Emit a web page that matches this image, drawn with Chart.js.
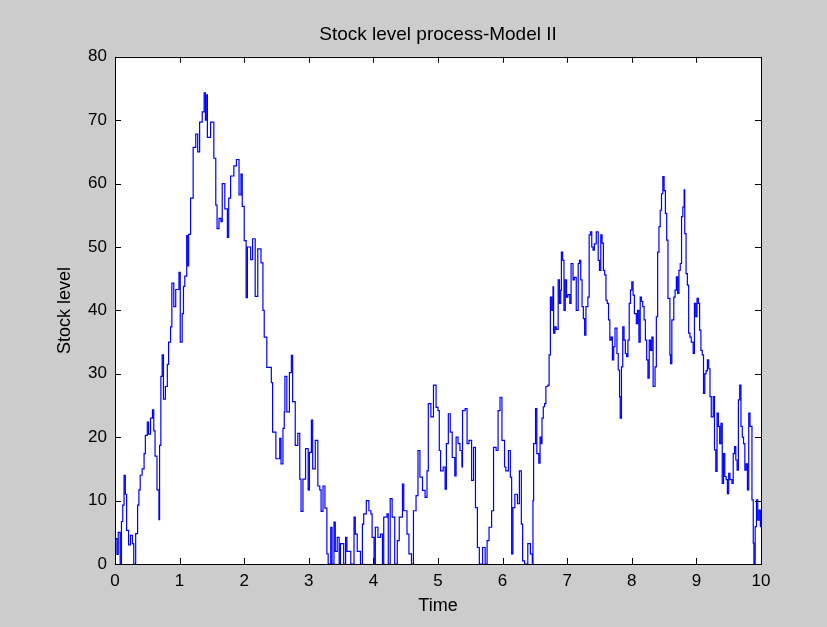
<!DOCTYPE html>
<html>
<head>
<meta charset="utf-8">
<title>Stock level process-Model II</title>
<script src="https://cdn.jsdelivr.net/npm/chart.js@4"></script>
<style>
    html, body { margin: 0; padding: 0; background: #cccccc; }
    #wrap { position: relative; width: 827px; height: 627px; }
</style>
</head>
<body>
<div id="wrap"><canvas id="stock-chart"></canvas></div>
<script>
// Stock level path (time, level); drawn as steps
const times = [
    0, 0.03, 0.05, 0.08, 0.10, 0.12, 0.14, 0.16, 0.18, 0.21, 0.24, 0.27, 0.29, 0.32, 0.35, 0.37, 0.39, 0.42, 0.45, 0.47,
    0.50, 0.52, 0.55, 0.58, 0.60, 0.62, 0.65, 0.68, 0.69, 0.71, 0.73, 0.75, 0.78, 0.81, 0.83, 0.86, 0.88, 0.91, 0.94, 0.99,
    1.01, 1.04, 1.06, 1.08, 1.11, 1.12, 1.14, 1.17, 1.21, 1.25, 1.28, 1.31, 1.35, 1.38, 1.40, 1.42, 1.43, 1.48, 1.53, 1.56,
    1.58, 1.61, 1.64, 1.66, 1.70, 1.74, 1.76, 1.79, 1.84, 1.88, 1.92, 1.95, 1.97, 2.00, 2.03, 2.05, 2.10, 2.13, 2.17, 2.21,
    2.26, 2.29, 2.31, 2.35, 2.42, 2.44, 2.49, 2.55, 2.57, 2.60, 2.62, 2.63, 2.66, 2.70, 2.73, 2.75, 2.79, 2.83, 2.86, 2.88,
    2.91, 2.95, 2.99, 3.01, 3.04, 3.06, 3.10, 3.14, 3.17, 3.19, 3.22, 3.25, 3.28, 3.30,
    3.34, 3.36, 3.39, 3.41, 3.44, 3.47, 3.49, 3.54, 3.57, 3.59, 3.65, 3.70, 3.72, 3.75, 3.80, 3.83, 3.85, 3.89, 3.93, 3.96,
    3.98, 4.01, 4.03, 4.07, 4.11, 4.14, 4.16, 4.21, 4.23, 4.26, 4.29, 4.33, 4.37, 4.40, 4.45, 4.47, 4.52, 4.55, 4.59, 4.62,
    4.66, 4.69, 4.72, 4.76, 4.80, 4.83, 4.85, 4.89, 4.93, 4.97, 5.00, 5.02, 5.04, 5.08, 5.11, 5.13, 5.16, 5.19, 5.22, 5.26,
    5.28, 5.31, 5.34, 5.37, 5.38, 5.42, 5.45, 5.48, 5.52, 5.55, 5.58, 5.61, 5.64, 5.69, 5.73, 5.76, 5.79, 5.83, 5.86, 5.90,
    5.93, 5.96, 5.99, 6.03, 6.05, 6.09, 6.12, 6.14, 6.16, 6.19, 6.23, 6.26, 6.29, 6.31, 6.34, 6.39, 6.43, 6.46,
    6.47, 6.48, 6.51, 6.53, 6.56, 6.58, 6.60, 6.61, 6.63, 6.65, 6.67, 6.70, 6.72, 6.74, 6.76, 6.78, 6.79, 6.81, 6.83, 6.86,
    6.88, 6.90, 6.91, 6.93, 6.95, 6.97, 6.99, 7.01, 7.04, 7.06, 7.09, 7.11, 7.14, 7.17, 7.19, 7.21, 7.23, 7.25, 7.27, 7.29,
    7.32, 7.34, 7.36, 7.38, 7.40, 7.42, 7.45, 7.48, 7.50, 7.52, 7.54, 7.56, 7.58, 7.60, 7.62, 7.64, 7.66, 7.68, 7.70, 7.72,
    7.74, 7.77, 7.79, 7.81, 7.82, 7.84, 7.86, 7.88, 7.90, 7.92, 7.94, 7.96, 7.98, 8.00, 8.02, 8.04, 8.07, 8.09, 8.11, 8.13,
    8.15, 8.17, 8.19, 8.21, 8.23, 8.25, 8.27, 8.29, 8.31, 8.33, 8.36, 8.38, 8.40, 8.42, 8.44, 8.46, 8.48, 8.50, 8.52, 8.54,
    8.56, 8.59, 8.60, 8.62, 8.65, 8.67, 8.69, 8.71, 8.73, 8.75, 8.77, 8.79, 8.81, 8.82, 8.84, 8.86, 8.88, 8.90, 8.92, 8.95,
    8.97, 8.99, 9.01, 9.03, 9.05, 9.07, 9.09, 9.11, 9.13, 9.15, 9.17, 9.19, 9.21, 9.23, 9.26, 9.28, 9.30, 9.32, 9.34, 9.36,
    9.38, 9.40, 9.42, 9.44, 9.46, 9.48, 9.50, 9.52, 9.55, 9.57, 9.59, 9.61, 9.63, 9.65, 9.67, 9.69, 9.71, 9.73, 9.75, 9.77,
    9.79, 9.81, 9.83, 9.86, 9.88, 9.89, 9.91, 9.93, 9.95, 9.97, 9.99, 10.0
];

const stockLevel = [
    4, 1.5, 5, 0, 6.7, 9.3, 14, 11, 5.3, 3, 4.5, 3.2, 0, 4.8, 9.3, 11.7, 14, 15, 17.4, 20.3,
    22.4, 20.5, 23, 24.3, 21, 17, 11.7, 7, 18.7, 29.6, 33, 26, 28, 31.5, 35, 37.4, 44.3, 40.6, 43.3, 46,
    35, 39.5, 43.8, 45.4, 51.8, 47, 52, 57.7, 65.7, 67.8, 65, 69.7, 71.3, 74.3, 70, 74, 67.3, 69.7, 64, 56.6,
    52.9, 54.5, 54, 60, 56, 51.5, 57.7, 61.2, 62.8, 63.8, 58.2, 61.5, 56.4, 51, 42, 50, 48, 51.3, 42.2, 49.7,
    47.5, 40, 35.8, 31, 28.6, 20.8, 16.6, 19.8, 15.8, 21.4, 24, 29.6, 24, 30.2, 32.9, 25.6, 18.7, 20.6, 13.4, 8.3,
    13.4, 18.2, 11.7, 17.6, 22.7, 15, 19.5, 12.3, 11.7, 8.3, 12.3, 8.8, 1.6, 0,
    5.8, 0, 6.6, 2, 4.2, 0, 3.2, 0, 4.2, 2, 0, 7.4, 4.7, 2, 0, 6.3, 7.9, 10, 8.4, 7.9,
    4.2, 0, 5.8, 4.2, 4.7, 0, 7.4, 7.9, 0, 10.3, 7.4, 0, 3.7, 7.4, 12.6, 8.4, 4.7, 1.6, 0, 8.4,
    10.8, 17.9, 13.7, 11.6, 10.5, 14.7, 25.3, 23.2, 28.2, 24.7, 24.2, 17.9, 14.7, 15.3, 11.8, 19, 23.7, 20.8, 16.8, 13.9,
    20, 19, 17.9, 15.3, 24.2, 24.5, 19, 19.5, 13.2, 18.4, 8.9, 2.6, 0, 2.6, 0, 3.7, 5.8, 8.4, 18.4, 17.9,
    24.2, 26.3, 19.5, 15.3, 14.7, 17.9, 13.7, 1.6, 8.9, 11, 9.5, 14.7, 6.3, 0.5, 0, 3.2, 1.6, 0,
    10, 19, 24.5, 17.4, 15.9, 20, 19, 23, 24.8, 25.3, 28, 28.2, 33, 42.1, 40, 43.7, 36.4, 37.4, 37, 44.8,
    41.1, 43.2, 49.2, 47.9, 40, 44.8, 42.1, 42.5, 41.1, 47.4, 44.8, 45.2, 40, 47.4, 47.9, 44.8, 40.6, 38.7, 36.1, 40.6,
    42.1, 51.9, 52.4, 50, 49.5, 50.5, 52.4, 47.9, 46.3, 51.9, 50.6, 46.3, 45.6, 41.6, 41.1, 38.5, 35.3, 35.8, 32.2, 34.3,
    37.2, 33.2, 30.6, 26.4, 23, 31.1, 37.4, 35.3, 33.2, 32.7, 35.3, 41.1, 43.2, 44.5, 42.4, 39.5, 37.9, 40, 35, 42.1,
    41.4, 40.6, 38.5, 35.3, 32.2, 29.3, 35.3, 33.7, 35.8, 28, 31.1, 39, 49.2, 53.2, 55.8, 58.4, 61.1, 58.9, 55.3, 51.1,
    41.9, 33, 31.6, 38.5, 42.1, 43.2, 45.3, 42.7, 46.3, 47.4, 54.8, 56.3, 59, 52.1, 45.8, 44, 36.4, 35.8, 35, 33.2,
    41.1, 39, 41.9, 41.1, 36.9, 33.7, 33, 26.9, 30, 30.5, 32.2, 30.8, 26.4, 23.2, 26.4, 18, 14.6, 23.8, 21.7, 19,
    22.2, 12.7, 17.4, 13.8, 13.3, 11.1, 14.3, 13.3, 12.7, 17.4, 18.5, 16.4, 14.8, 25.9, 28.2, 21.7, 20, 19, 14.8, 15.8,
    11.7, 23.8, 21.7, 10.1, 3.3, 0, 5.9, 10.1, 6.9, 8.5, 5.9, 8
];

const xTicks = [0, 1, 2, 3, 4, 5, 6, 7, 8, 9, 10];
const yTicks = [0, 10, 20, 30, 40, 50, 60, 70, 80];

const FONT = '"Liberation Sans", Arial, Helvetica, sans-serif';

// white axes box, black frame and matlab-style inward ticks on all four sides
const axesBox = {
    id: 'axesBox',
    beforeDraw(chart) {
        const { ctx, chartArea: a } = chart;
        ctx.save();
        ctx.fillStyle = '#ffffff';
        ctx.fillRect(a.left, a.top, a.right - a.left, a.bottom - a.top);
        ctx.restore();
    },
    afterDatasetsDraw(chart) {
        const { ctx, chartArea: a, scales } = chart;
        const len = 6;
        ctx.save();
        ctx.strokeStyle = '#000000';
        ctx.lineWidth = 1;
        ctx.beginPath();
        xTicks.forEach(v => {
            const px = Math.round(scales.x.getPixelForValue(v)) + 0.5;
            ctx.moveTo(px, a.bottom);
            ctx.lineTo(px, a.bottom - len);
            ctx.moveTo(px, a.top);
            ctx.lineTo(px, a.top + len);
        });
        yTicks.forEach(v => {
            const py = Math.round(scales.y.getPixelForValue(v)) + 0.5;
            ctx.moveTo(a.left, py);
            ctx.lineTo(a.left + len, py);
            ctx.moveTo(a.right, py);
            ctx.lineTo(a.right - len, py);
        });
        ctx.stroke();
        ctx.strokeRect(Math.round(a.left) + 0.5, Math.round(a.top) + 0.5,
            Math.round(a.right - a.left), Math.round(a.bottom - a.top));
        ctx.restore();
    }
};

const ctx = document.getElementById('stock-chart');

new Chart(ctx, {
    type: 'line',
    data: {
        datasets: [{
            label: 'Stock level',
            data: times.map((t, i) => ({ x: t, y: stockLevel[i] })),
            borderColor: '#0000ff',
            borderWidth: 1.2,
            stepped: true,
            pointRadius: 0,
            fill: false
        }]
    },
    options: {
        responsive: true,
        maintainAspectRatio: false,
        animation: false,
        layout: {
            padding: { left: 50, right: 66, top: 0, bottom: 10 }
        },
        scales: {
            x: {
                type: 'linear',
                min: 0,
                max: 10,
                afterFit(scale) { scale.height = 53; },
                grid: { display: false, drawTicks: false },
                border: { display: false },
                ticks: {
                    stepSize: 1,
                    padding: 7,
                    color: '#000000',
                    font: { family: FONT, size: 17 }
                },
                title: {
                    display: true,
                    text: 'Time',
                    color: '#000000',
                    padding: 0,
                    font: { family: FONT, size: 18 }
                }
            },
            y: {
                min: 0,
                max: 80,
                afterFit(scale) { scale.width = 65; },
                grid: { display: false, drawTicks: false },
                border: { display: false },
                ticks: {
                    stepSize: 10,
                    padding: 8,
                    color: '#000000',
                    font: { family: FONT, size: 17 }
                },
                title: {
                    display: true,
                    text: 'Stock level',
                    color: '#000000',
                    padding: { top: 4, bottom: 0 },
                    font: { family: FONT, size: 18 }
                }
            }
        },
        plugins: {
            legend: { display: false },
            tooltip: { enabled: false },
            title: {
                display: true,
                text: 'Stock level process-Model II',
                fullSize: false,
                color: '#000000',
                padding: { top: 23, bottom: 11 },
                font: { family: FONT, size: 19, weight: 'normal' }
            }
        }
    },
    plugins: [axesBox]
});
</script>
</body>
</html>
